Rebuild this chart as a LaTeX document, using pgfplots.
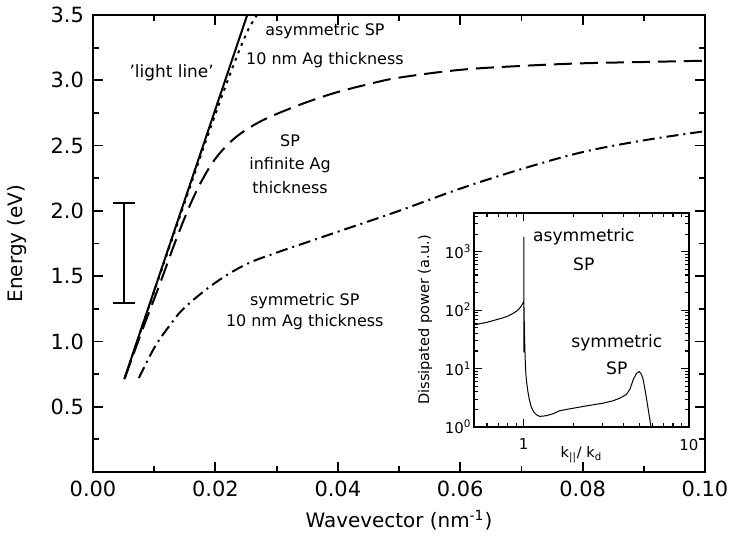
\documentclass[border=0pt]{standalone}
\usepackage{fontspec}
\setmainfont{DejaVu Sans}
\usepackage{pgfplots}
\pgfplotsset{compat=1.18}
\begin{document}
\begin{tikzpicture}[font=\fontsize{10.5}{12.5}\selectfont]
\path[use as bounding box] (-46.5bp,-35.5bp) rectangle (318bp,236bp);
\begin{axis}[
  at={(0,0)}, anchor=south west,
  scale only axis, width=306bp, height=228.5bp,
  xmin=0, xmax=0.1, ymin=0, ymax=3.5,
  xtick={0,0.02,0.04,0.06,0.08,0.1},
  xticklabels={0.00,0.02,0.04,0.06,0.08,0.10},
  minor xtick={0.01,0.03,0.05,0.07,0.09},
  ytick={0.5,1,1.5,2,2.5,3,3.5},
  yticklabels={0.5,1.0,1.5,2.0,2.5,3.0,3.5},
  minor ytick={0.25,0.75,1.25,1.75,2.25,2.75,3.25},
  tick align=inside, major tick length=5bp, minor tick length=3bp,
  tick style={line width=0.9bp, black},
  axis line style={line width=1bp},
  xticklabel style={yshift=-1bp},
  yticklabel style={xshift=-1bp},
  xlabel={Wavevector (nm\textsuperscript{-1})},
  ylabel={Energy (eV)},
  xlabel style={at={(axis description cs:0.5,0)}, anchor=center, yshift=-24bp, font=\fontsize{10}{12}\selectfont},
  ylabel style={at={(axis description cs:0,0.5)}, anchor=center, yshift=38bp, font=\fontsize{10}{12}\selectfont},
]
% light line
\addplot[black, line width=1bp] coordinates {(0.0051,0.71) (0.0252,3.5)};
% asymmetric SP (dotted)
\addplot[black, line width=1bp, smooth, dash pattern=on 1.5bp off 2.5bp] coordinates {
(0.0052,0.72) (0.008,1.11) (0.011,1.52) (0.014,1.93) (0.017,2.34) (0.019,2.61) (0.021,2.87) (0.0225,3.06) (0.024,3.24) (0.0255,3.40) (0.0268,3.5)};
% SP infinite thickness (dashed)
\addplot[black, line width=1bp, smooth, tension=0.6, dash pattern=on 9bp off 4bp] coordinates {
(0.0052,0.72) (0.008,1.08) (0.011,1.45) (0.0135,1.77) (0.016,2.06) (0.018,2.25) (0.02,2.4) (0.0225,2.53) (0.025,2.62) (0.028,2.70) (0.032,2.78) (0.036,2.85) (0.04,2.91) (0.045,2.97) (0.05,3.02) (0.06,3.08) (0.07,3.11) (0.08,3.13) (0.09,3.14) (0.1,3.15)};
% symmetric SP (dash-dot)
\addplot[black, line width=1bp, smooth, tension=0.6, dash pattern=on 6bp off 2.5bp on 1bp off 2.5bp] coordinates {
(0.0075,0.72) (0.01,0.95) (0.0125,1.12) (0.015,1.26) (0.02,1.45) (0.025,1.59) (0.03,1.68) (0.035,1.76) (0.04,1.84) (0.05,2.0) (0.06,2.17) (0.07,2.32) (0.08,2.45) (0.09,2.54) (0.1,2.61)};
% scale bar
\addplot[black, line width=1bp] coordinates {(0.0051,1.295) (0.0051,2.06)};
\addplot[black, line width=1bp] coordinates {(0.0033,2.06) (0.0069,2.06)};
\addplot[black, line width=1bp] coordinates {(0.0033,1.295) (0.0069,1.295)};
% annotations
\node[font=\fontsize{8.5}{10}\selectfont] at (axis cs:0.01285,3.06) {'light line'};
\node[font=\fontsize{8}{10}\selectfont] at (axis cs:0.0379,3.375) {asymmetric SP};
\node[font=\fontsize{8}{10}\selectfont] at (axis cs:0.0379,3.155) {10 nm Ag thickness};
\node[font=\fontsize{8}{10}\selectfont] at (axis cs:0.0322,2.537) {SP};
\node[font=\fontsize{8}{10}\selectfont] at (axis cs:0.0322,2.35) {infinite Ag};
\node[font=\fontsize{8}{10}\selectfont] at (axis cs:0.0322,2.175) {thickness};
\node[font=\fontsize{8}{10}\selectfont] at (axis cs:0.0346,1.31) {symmetric SP};
\node[font=\fontsize{8}{10}\selectfont] at (axis cs:0.0346,1.145) {10 nm Ag thickness};
\end{axis}
% inset
\begin{axis}[
  at={(190.5bp,22.5bp)}, anchor=south west,
  scale only axis, width=107.5bp, height=107bp,
  xmode=log, ymode=log,
  xmin=0.5, xmax=10, ymin=1, ymax=4600,
  axis background/.style={fill=white},
  xtick={1,10}, xticklabels={1,10},
  minor xtick={0.5,0.6,0.7,0.8,0.9,2,3,4,5,6,7,8,9},
  ytick={1,10,100,1000},
  yticklabels={10\textsuperscript{0},10\textsuperscript{1},10\textsuperscript{2},10\textsuperscript{3}},
  minor ytick={2,3,4,5,6,7,8,9,20,30,40,50,60,70,80,90,200,300,400,500,600,700,800,900,2000,3000,4000},
  tick align=inside, major tick length=4bp, minor tick length=2.2bp,
  tick style={line width=0.6bp, black},
  axis line style={line width=0.9bp},
  tick label style={font=\fontsize{7.5}{9}\selectfont},
  xticklabel style={yshift=-2.5bp},
  yticklabel style={inner sep=1bp},
  xlabel={k\textsubscript{||}/ k\textsubscript{d}},
  ylabel={Dissipated power (a.u.)},
  xlabel style={at={(axis description cs:0.5,0)}, anchor=center, yshift=-14bp, font=\fontsize{7.3}{9}\selectfont},
  ylabel style={at={(axis description cs:0,0.5)}, anchor=center, yshift=24.5bp, font=\fontsize{7.3}{9}\selectfont},
]
\addplot[black, line width=0.5bp] coordinates {
(0.5,56) (0.55,59) (0.6,62) (0.65,66) (0.7,70) (0.75,74) (0.8,79) (0.85,86) (0.9,95) (0.94,106) (0.97,120) (0.99,133) (1.0,140)
(1.001,1800) (1.002,19) (1.003,120) (1.01,40) (1.02,15) (1.03,8) (1.04,6) (1.06,4) (1.08,3) (1.11,2.2) (1.15,1.8) (1.2,1.6) (1.25,1.52)
(1.35,1.55) (1.5,1.68) (1.65,1.9) (2.0,2.1) (2.4,2.3) (3.0,2.55) (3.46,2.8) (3.8,3.1) (4.18,3.6) (4.4,4.5) (4.6,6.5) (4.8,8.2) (5.0,8.9) (5.15,8.0) (5.28,6.5) (5.4,4.6) (5.54,3.0) (5.7,1.8) (5.89,1.0) (6.0,0.8)};
\node[font=\fontsize{8.6}{10}\selectfont] at (axis cs:2.31,1795) {asymmetric};
\node[font=\fontsize{8.6}{10}\selectfont] at (axis cs:2.31,603) {SP};
\node[font=\fontsize{8.6}{10}\selectfont] at (axis cs:3.66,27.6) {symmetric};
\node[font=\fontsize{8.6}{10}\selectfont] at (axis cs:3.66,10) {SP};
\end{axis}
\end{tikzpicture}
\end{document}
